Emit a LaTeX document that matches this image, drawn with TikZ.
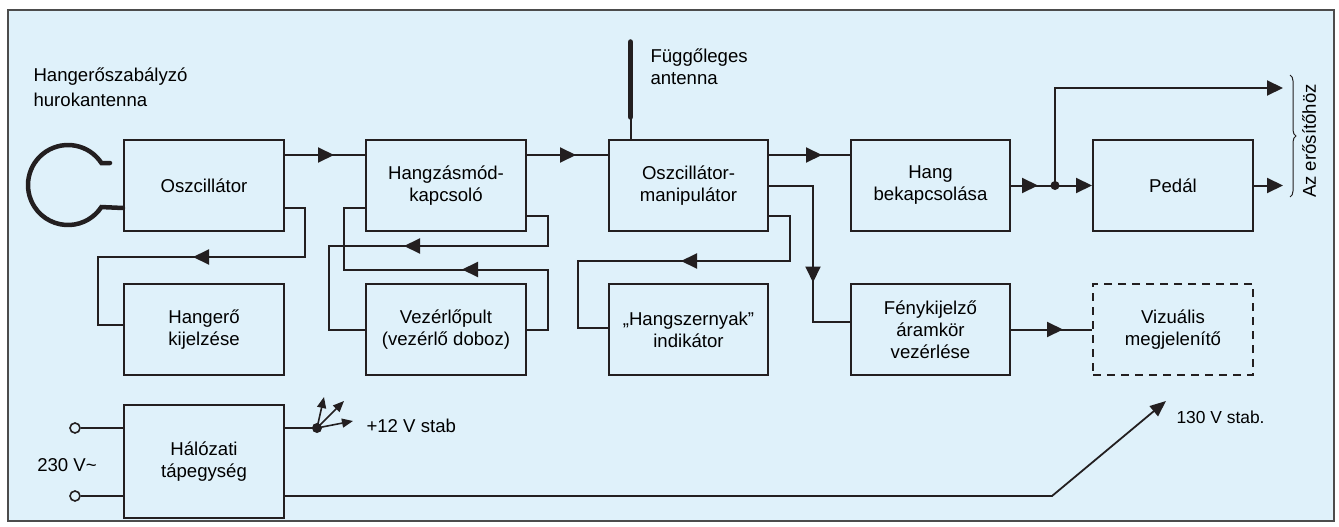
\documentclass[tikz,border=0pt]{standalone}
\usepackage{fontspec}
\setmainfont{Liberation Sans}
\usetikzlibrary{arrows.meta, decorations.markings, decorations.pathreplacing}

\definecolor{panelblue}{RGB}{223,241,250}
\definecolor{ink}{RGB}{35,31,32}

\begin{document}
\begin{tikzpicture}[x=1pt, y=-1pt, font=\fontsize{18.6}{22}\selectfont,
  block/.style={draw=ink, line width=2pt, minimum width=160pt,
    minimum height=91pt, align=center, inner sep=0pt},
  wire/.style={draw=ink, line width=2pt},
  tipat/.style={postaction={decorate, decoration={markings,
    mark=at position #1 with {\arrow{Triangle[length=16pt,width=15pt]}}}}},
  bigtip/.style={-{Triangle[length=16pt,width=15pt]}},
  dot/.style={circle, fill=ink, inner sep=0pt, minimum size=9pt},
  terminal/.style={circle, draw=ink, line width=1.6pt, fill=panelblue,
    inner sep=0pt, minimum size=10pt}]

  \useasboundingbox (0,0) rectangle (1339,527);
  \fill[white] (0,0) rectangle (1339,527);
  \draw[fill=panelblue, draw=black!70, line width=1.5pt] (8,10) rectangle (1334,521);

  % === TOP ROW ===
  \node[block] (osc) at (204,185.5) {Oszcillátor};
  \node[block] (mode) at (446,185.5) {Hangzásmód-\\kapcsoló};
  \node[block, minimum width=159pt] (manip) at (688.5,185.5)
    {Oszcillátor-\\manipulátor};
  \node[block, minimum width=159pt] (gate) at (930.5,185.5)
    {Hang\\bekapcsolása};
  \node[block] (pedal) at (1173,185.5) {Pedál};

  % === LOWER ROW ===
  \node[block] (level) at (204,329.5) {Hangerő\\kijelzése};
  \node[block] (panel) at (446,329.5) {Vezérlőpult\\(vezérlő doboz)};
  \node[block, minimum width=159pt] (neck) at (688.5,329.5)
    {„Hangszernyak"\\indikátor};
  \node[block, minimum width=159pt] (light) at (930.5,329.5)
    {Fénykijelző\\áramkör\\vezérlése};
  \node[block, dash pattern=on 8pt off 6pt] (visual) at (1173,329.5)
    {Vizuális\\megjelenítő};

  % Power supply
  \node[block, minimum height=113pt] (psu) at (204,461.5)
    {Hálózati\\tápegység};

  % Loop antenna
  \node[anchor=west, align=left] (looplabel) at (30,87.5)
    {Hangerőszabályzó\\[3pt]hurokantenna};
  \draw[ink, line width=4.5pt, line cap=round]
    (110,163) -- (101.4,163) arc[start angle=33.4, end angle=326.6, radius=40pt]
    -- ([yshift=-22.5pt]osc.west);

  % Vertical antenna
  \draw[wire] ([xshift=22.5pt]manip.north west) -- ++(0,-22) coordinate (whipbase);
  \draw[ink, line width=5.5pt, line cap=round] (whipbase) -- ++(0,-75);
  \node[anchor=west, align=left] (whiplabel) at (647,66.5)
    {Függőleges\\antenna};

  % === SIGNAL PATH ===
  \draw[wire, tipat=49pt] ([yshift=30.5pt]osc.east) -- ([yshift=30.5pt]mode.west);
  \draw[wire, tipat=49pt] ([yshift=30.5pt]mode.east) -- ([yshift=30.5pt]manip.west);
  \draw[wire, tipat=53pt] ([yshift=30.5pt]manip.east) -- ([yshift=30.5pt]gate.west);

  % Split to the amplifier
  \node[dot] (split) at (1055,185.5) {};
  \coordinate (outA) at (1283,88);
  \coordinate (outB) at (1283,185.5);
  \draw[wire, tipat=27pt] (gate.east) -- (split.center);
  \draw[wire, bigtip] (split.center) -- (pedal.west);
  \draw[wire, bigtip] (split.center) |- (outA);
  \draw[wire, bigtip] (pedal.east) -- (outB);
  \draw[ink, line width=1pt, decorate, decoration={brace, amplitude=6pt}]
    (1290,75) -- (1290,197);
  \node[rotate=90] (amp) at (1309,141) {Az erősítőhöz};

  % === FEEDBACK LOOPS ===
  \draw[wire, tipat=181pt] ([yshift=-22.5pt]osc.east) -- ++(20,0) -- ++(0,49)
    -- ++(-207,0) |- ([yshift=4.5pt]level.west);
  \draw[wire, tipat=167pt] (panel.east) -- ++(21,0) -- ++(0,-60)
    -- ++(-204,0) |- ([yshift=-22.5pt]mode.west);
  \draw[wire, tipat=195pt] ([yshift=-30.5pt]mode.east) -- ++(21,0) -- ++(0,30)
    -- ++(-219,0) |- (panel.west);
  \draw[wire, tipat=175pt] ([yshift=-30.5pt]manip.east) -- ++(21,0) -- ++(0,45)
    -- ++(-212,0) |- ([yshift=1.5pt]neck.west);

  % Light display branch
  \draw[wire, tipat=141pt] (manip.east) -- ++(44,0) |- ([yshift=7.5pt]light.west);
  \draw[wire, tipat=52pt] (light.east) -- (visual.west);

  % === POWER ===
  \node[terminal] (acA) at (75,428) {};
  \node[terminal] (acB) at (75,496) {};
  \draw[wire] (acA) -- ([yshift=33.5pt]psu.west);
  \draw[wire] (acB) -- ([yshift=-34.5pt]psu.west);
  \node (mains) at (67,465) {230 V\textasciitilde};

  % +12 V rail
  \node[dot, minimum size=10pt] (rail) at (317,428) {};
  \draw[wire] ([yshift=33.5pt]psu.east) -- (rail.center);
  \foreach \tx/\ty in {324/397, 344/401, 353/421}
    \draw[ink, line width=1.6pt, -{Triangle[length=11pt,width=9pt]}]
      (rail.center) -- (\tx,\ty);
  \node[anchor=west] (low) at (363,426) {+12 V stab};

  % 130 V rail
  \coordinate (hv) at (1166,401);
  \draw[ink, line width=1.8pt, -{Triangle[length=16pt,width=13pt]}]
    ([yshift=-34.5pt]psu.east) -- (1052,496) -- (hv);
  \node[anchor=west, font=\fontsize{17.4}{20}\selectfont] (high) at (1173,417)
    {130 V stab.};

\end{tikzpicture}
\end{document}
